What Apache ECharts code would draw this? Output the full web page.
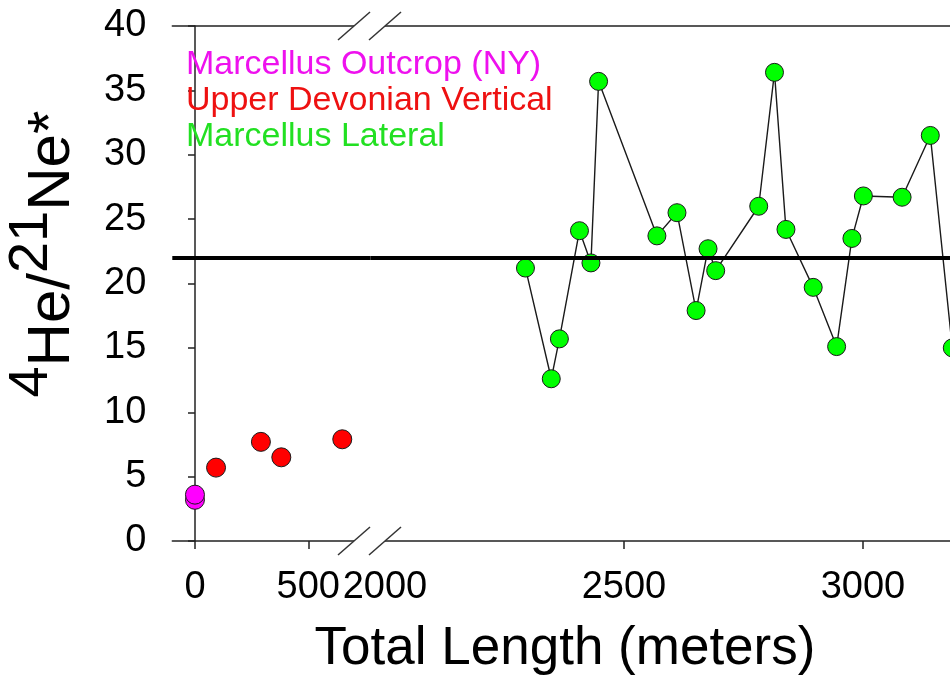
<!DOCTYPE html>
<html>
<head>
<meta charset="utf-8">
<script src="https://cdn.jsdelivr.net/npm/echarts@6/dist/echarts.min.js"></script>
<style>
  html, body { margin: 0; padding: 0; background: #fff; }
  #chart { width: 950px; height: 680px; }
</style>
</head>
<body>
<div id="chart"></div>
<script>
// data
const outcropX = [0, 0];
const outcropY = [3.2, 3.6];
const verticalX = [93, 291, 381, 650];
const verticalY = [5.7, 7.7, 6.5, 7.9];
const lateralX = [2294, 2348, 2365, 2407, 2431, 2447, 2569, 2611, 2651, 2676, 2692,
                  2782, 2815, 2839, 2896, 2945, 2977, 3001, 3082, 3141, 3187];
const lateralY = [21.2, 12.6, 15.7, 24.1, 21.6, 35.7, 23.7, 25.5, 17.9, 22.7, 21.0,
                  26.0, 36.4, 24.2, 19.7, 15.1, 23.5, 26.8, 26.7, 31.5, 15.0];
const refLevel = 22;
const leftTicks = [0, 500];
const rightLabels = [2000, 2500, 3000];
const rightTicks = [2500, 3000];
const seriesNames = ['Marcellus Outcrop (NY)', 'Upper Devonian Vertical', 'Marcellus Lateral'];
const seriesColors = ['#ff00ff', '#ff0000', '#00ff00'];
const legendColors = ['#ee11ee', '#ee1111', '#22e022'];

function pairs(xs, ys) {
    return xs.map(function (x, i) { return [x, ys[i]]; });
}

const font = 'Liberation Sans, Arial, sans-serif';
const axisColor = '#222';

let myChart = echarts.init(document.getElementById('chart'));

function xAxisBase(gridIndex, min, max, position) {
    return {
        type: 'value',
        gridIndex: gridIndex,
        min: min,
        max: max,
        position: position,
        splitLine: { show: false },
        axisLine: { show: true, onZero: false, lineStyle: { color: axisColor, width: 1.5 } },
        axisTick: { show: false },
        axisLabel: { show: false }
    };
}

let plainNum = function (v) { return String(v); };

let bottomLeft = xAxisBase(0, -100, 775, 'bottom');
bottomLeft.axisTick = { show: true, length: 8, customValues: leftTicks, lineStyle: { color: axisColor, width: 1.5 } };
bottomLeft.axisLabel = { show: true, customValues: leftTicks, formatter: plainNum, fontSize: 38, fontFamily: font, color: '#000', margin: 28 };

let bottomRight = xAxisBase(1, 1970, 3300, 'bottom');
bottomRight.axisTick = { show: true, length: 8, customValues: rightTicks, lineStyle: { color: axisColor, width: 1.5 } };
bottomRight.axisLabel = { show: true, customValues: rightLabels, formatter: plainNum, fontSize: 38, fontFamily: font, color: '#000', margin: 28 };

let refLine = {
    silent: true,
    symbol: 'none',
    label: { show: false },
    lineStyle: { color: '#000', width: 4, type: 'solid' },
    emphasis: { disabled: true },
    data: [{ yAxis: refLevel }]
};

let dotStyle = function (c) {
    return { color: c, borderColor: '#1a1a1a', borderWidth: 1, opacity: 1 };
};

let option = {
    backgroundColor: '#fff',
    animation: false,
    grid: [
        { left: 172.3, width: 198.3, top: 26, bottom: 139, outerBoundsMode: 'none' },
        { left: 370.6, width: 635.7, top: 26, bottom: 139, outerBoundsMode: 'none' }
    ],
    xAxis: [
        bottomLeft,
        bottomRight,
        xAxisBase(0, -100, 775, 'top'),
        xAxisBase(1, 1970, 3300, 'top')
    ],
    yAxis: [
        {
            type: 'value', gridIndex: 0, min: 0, max: 40, interval: 5,
            splitLine: { show: false },
            axisLine: { show: true, lineStyle: { color: axisColor, width: 1.5 } },
            axisTick: { show: true, length: 7, lineStyle: { color: axisColor, width: 1.5 } },
            axisLabel: { fontSize: 38, fontFamily: font, color: '#000', margin: 26 }
        },
        { type: 'value', gridIndex: 1, min: 0, max: 40, interval: 5, show: false, splitLine: { show: false } }
    ],
    legend: {
        orient: 'vertical',
        left: 176,
        top: 42,
        icon: 'none',
        itemWidth: 0,
        itemHeight: 36,
        itemGap: 0,
        selectedMode: false,
        textStyle: { fontSize: 34, fontFamily: font, lineHeight: 36 },
        data: seriesNames.map(function (n, i) {
            return { name: n, textStyle: { color: legendColors[i] } };
        })
    },
    series: [
        {
            name: seriesNames[0], type: 'scatter', xAxisIndex: 0, yAxisIndex: 0,
            symbolSize: 19, itemStyle: dotStyle(seriesColors[0]), z: 3,
            data: pairs(outcropX, outcropY)
        },
        {
            name: seriesNames[1], type: 'scatter', xAxisIndex: 0, yAxisIndex: 0,
            symbolSize: 19, itemStyle: dotStyle(seriesColors[1]), z: 3,
            markLine: refLine,
            data: pairs(verticalX, verticalY)
        },
        {
            name: seriesNames[2], type: 'line', xAxisIndex: 1, yAxisIndex: 1,
            symbol: 'circle', symbolSize: 18, showAllSymbol: true,
            itemStyle: dotStyle(seriesColors[2]),
            lineStyle: { color: '#1a1a1a', width: 1.4 },
            markLine: refLine,
            data: pairs(lateralX, lateralY)
        }
    ],
    graphic: [
        // gaps in the axis frame at the break, then the double slashes
        { type: 'rect', z: 100, shape: { x: 354, y: 536, width: 31, height: 10 }, style: { fill: '#fff' } },
        { type: 'rect', z: 100, shape: { x: 354, y: 21, width: 31, height: 10 }, style: { fill: '#fff' } },
        { type: 'line', z: 101, shape: { x1: 338, y1: 555, x2: 370, y2: 527 }, style: { stroke: '#333', lineWidth: 1.5 } },
        { type: 'line', z: 101, shape: { x1: 369, y1: 555, x2: 401, y2: 527 }, style: { stroke: '#333', lineWidth: 1.5 } },
        { type: 'line', z: 101, shape: { x1: 338, y1: 40, x2: 370, y2: 12 }, style: { stroke: '#333', lineWidth: 1.5 } },
        { type: 'line', z: 101, shape: { x1: 369, y1: 40, x2: 401, y2: 12 }, style: { stroke: '#333', lineWidth: 1.5 } },
        {
            type: 'text', z: 100, x: 565, y: 649,
            style: {
                text: 'Total Length (meters)', fontSize: 53, fontFamily: font,
                fill: '#000', align: 'center', verticalAlign: 'middle'
            }
        },
        {
            type: 'text', z: 100, x: 43, y: 254, rotation: Math.PI / 2,
            style: {
                text: '{s|4}{b|He/}{s|21}{b|Ne*}{z| }',
                fill: '#000', align: 'center', verticalAlign: 'middle',
                fontFamily: font,
                rich: {
                    b: { fontSize: 60, lineHeight: 60, verticalAlign: 'bottom', fontFamily: font, fill: '#000' },
                    s: { fontSize: 56, lineHeight: 56, verticalAlign: 'top', fontFamily: font, fill: '#000' },
                    z: { fontSize: 1, lineHeight: 79 }
                }
            }
        }
    ]
};
myChart.setOption(option);
</script>
</body>
</html>
